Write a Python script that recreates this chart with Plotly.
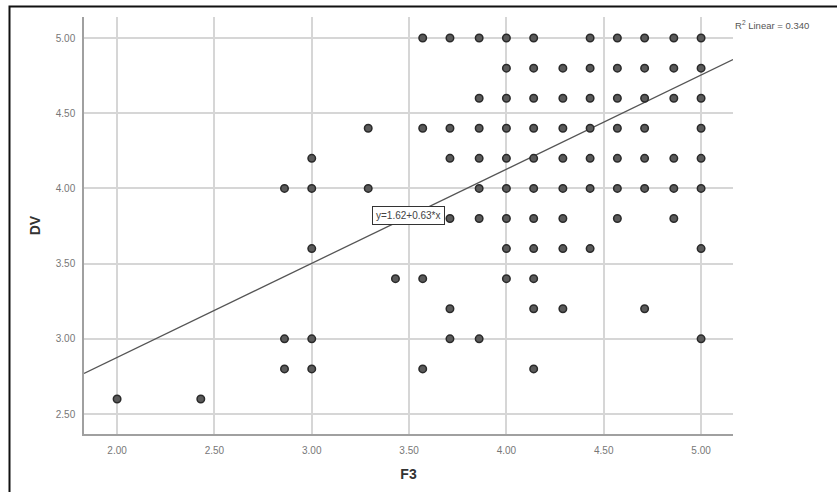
import plotly.graph_objects as go

# ---- data (F3 = mean of 7 items, DV = mean of 5 items) ----
dv_levels = [5.0, 4.8, 4.6, 4.4, 4.2, 4.0, 3.8, 3.6, 3.4, 3.2, 3.0, 2.8, 2.6]
f3_by_level = [
    [3.57, 3.71, 3.86, 4.00, 4.14, 4.43, 4.57, 4.71, 4.86, 5.00],
    [4.00, 4.14, 4.29, 4.43, 4.57, 4.71, 4.86, 5.00],
    [3.86, 4.00, 4.14, 4.29, 4.43, 4.57, 4.71, 4.86, 5.00],
    [3.29, 3.57, 3.71, 3.86, 4.00, 4.14, 4.29, 4.43, 4.57, 4.71, 5.00],
    [3.00, 3.71, 3.86, 4.00, 4.14, 4.29, 4.43, 4.57, 4.71, 4.86, 5.00],
    [2.86, 3.00, 3.29, 3.86, 4.00, 4.14, 4.29, 4.43, 4.57, 4.71, 4.86, 5.00],
    [3.71, 3.86, 4.00, 4.14, 4.29, 4.57, 4.86],
    [3.00, 4.00, 4.14, 4.29, 4.43, 5.00],
    [3.43, 3.57, 4.00, 4.14],
    [3.71, 4.14, 4.29, 4.71],
    [2.86, 3.00, 3.71, 3.86, 5.00],
    [2.86, 3.00, 3.57, 4.14],
    [2.00, 2.43],
]
fit_intercept = 1.624
fit_slope = 0.626
r2_linear = 0.340
x_ticks = [2.0, 2.5, 3.0, 3.5, 4.0, 4.5, 5.0]
y_ticks = [2.5, 3.0, 3.5, 4.0, 4.5, 5.0]
x_range = [1.83, 5.164]
y_range = [2.367, 5.14]

f3 = [x for xs in f3_by_level for x in xs]
dv = [lvl for lvl, xs in zip(dv_levels, f3_by_level) for _ in xs]

line_x = x_range
line_y = [fit_intercept + fit_slope * v for v in line_x]

FONT = "Liberation Sans, Arial, sans-serif"

fig = go.Figure()
fig.add_trace(go.Scatter(
    x=line_x, y=line_y, mode="lines",
    line=dict(color="#555555", width=1.3),
    hoverinfo="skip", showlegend=False, cliponaxis=True,
))
fig.add_trace(go.Scatter(
    x=f3, y=dv, mode="markers",
    marker=dict(size=7.5, color="#5a5a5a", line=dict(color="#2a2a2a", width=1.5)),
    showlegend=False,
))

L, R, T, B = 84, 104, 17, 58
W, H = 837, 492
pw, ph = W - L - R, H - T - B

fig.update_layout(
    width=W, height=H,
    margin=dict(l=L, r=R, t=T, b=B, autoexpand=False),
    paper_bgcolor="white", plot_bgcolor="white",
    font=dict(family=FONT, color="#555555", size=10),
    xaxis=dict(
        range=x_range, tickvals=x_ticks, tickformat=".2f",
        showgrid=True, gridcolor="#d6d6d6", gridwidth=1.6,
        showline=True, linecolor="#a0a0a0", linewidth=1.5,
        zeroline=False, ticks="", ticklabelstandoff=6,
        tickfont=dict(size=10, color="#777777"),
        title=dict(text="<b>F3</b>", font=dict(size=14, color="#333333", family=FONT), standoff=14),
        automargin=False,
    ),
    yaxis=dict(
        range=y_range, tickvals=y_ticks, tickformat=".2f",
        showgrid=True, gridcolor="#d6d6d6", gridwidth=1.6,
        showline=True, linecolor="#a0a0a0", linewidth=1.5,
        zeroline=False, ticks="", ticklabelstandoff=5,
        tickfont=dict(size=10, color="#777777"),
        title=dict(text="<b>DV</b>", font=dict(size=14, color="#333333", family=FONT), standoff=12),
        automargin=False,
    ),
)

# outer frame (cropped at right/bottom in the reference)
fig.add_shape(
    type="rect", xref="paper", yref="paper",
    x0=(9.5 - L) / pw, x1=(W + 10 - L) / pw,
    y0=-(H + 10 - (H - B)) / ph, y1=1 + (T - 6.5) / ph,
    line=dict(color="#111111", width=2), fillcolor="rgba(0,0,0,0)", layer="above",
)

# fit-line label box
fig.add_annotation(
    x=3.495, y=3.823, xref="x", yref="y",
    text=f"y={fit_intercept:.2f}+{fit_slope:.2f}*x",
    showarrow=False, bgcolor="white", bordercolor="#333333", borderwidth=1,
    borderpad=3, font=dict(size=10, color="#444444", family=FONT),
)

# R² label
fig.add_annotation(
    x=(733 - L) / pw, y=1 + (T - 25) / ph, xref="paper", yref="paper",
    xanchor="left", yanchor="middle",
    text=f"R<sup>2</sup> Linear = {r2_linear:.3f}",
    showarrow=False, font=dict(size=9.5, color="#555555", family=FONT),
)

fig.write_html(
    "out.html",
    config={"displayModeBar": False},
    post_script="document.body.style.margin='0';document.body.style.overflow='hidden';",
)
